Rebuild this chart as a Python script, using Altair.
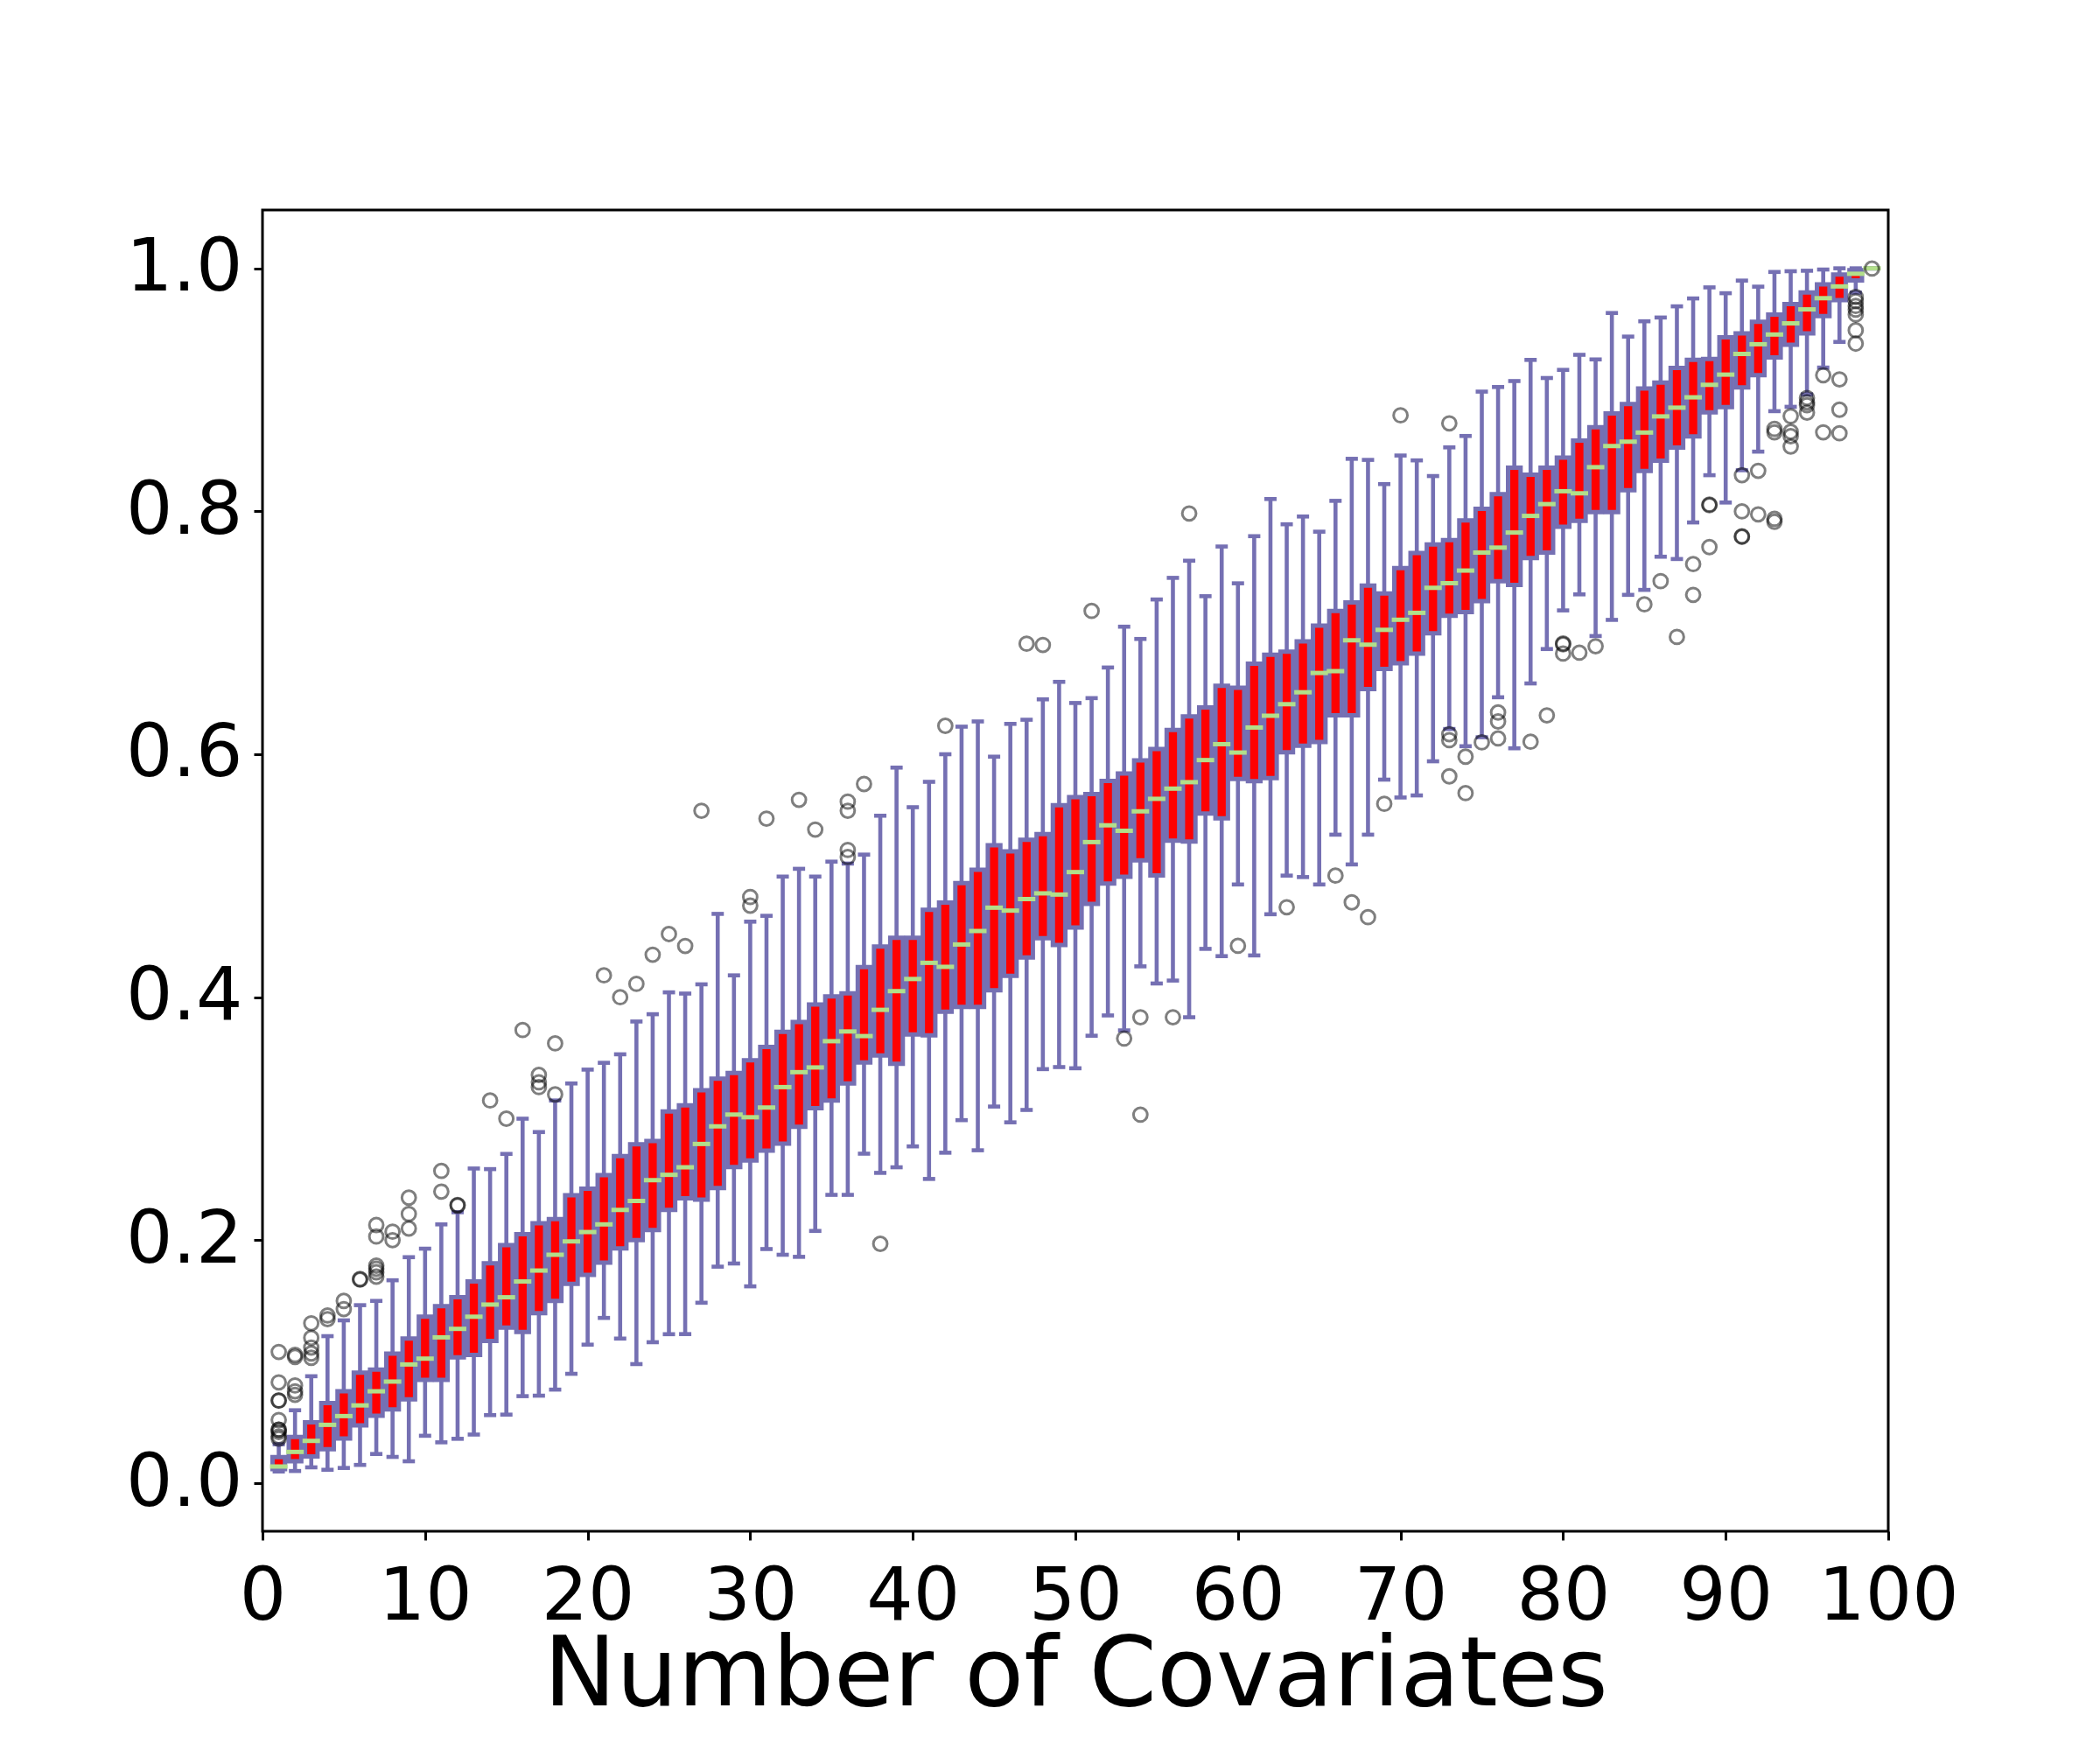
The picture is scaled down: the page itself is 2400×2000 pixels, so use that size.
import altair as alt
import pandas as pd

# ---- data ----
covariates = list(range(1, 100))

whisker_low = [0.0096, 0.010, 0.013, 0.011, 0.0125, 0.015, 0.024, 0.0216, 0.018, 0.039,
               0.0336, 0.0365, 0.040, 0.056, 0.0564, 0.0716, 0.072, 0.077, 0.090, 0.114,
               0.136, 0.119, 0.098, 0.116, 0.1226, 0.1227, 0.1485, 0.1782, 0.1808, 0.162,
               0.1927, 0.188, 0.1863, 0.2076, 0.2373, 0.2373, 0.2712, 0.2554, 0.260, 0.2772,
               0.2504, 0.272, 0.2988, 0.274, 0.310, 0.297, 0.3072, 0.3408, 0.3425, 0.3415,
               0.3683, 0.385, 0.3727, 0.4254, 0.4113, 0.4137, 0.3835, 0.4398, 0.4338, 0.4928,
               0.4344, 0.4683, 0.5001, 0.4989, 0.4928, 0.5338, 0.5093, 0.5338, 0.5791, 0.5644,
               0.5661, 0.5942, 0.6208, 0.6066, 0.614, 0.6469, 0.6049, 0.6583, 0.6866, 0.7184,
               0.7316, 0.6973, 0.7106, 0.7312, 0.7353, 0.7626, 0.7607, 0.7908, 0.8297, 0.8072,
               0.8338, 0.8491, 0.8824, 0.886, 0.8962, 0.9183, 0.9394, 0.980, 1.0]

quartile1 = [0.0115, 0.018, 0.022, 0.028, 0.0367, 0.0475, 0.0555, 0.0607, 0.069, 0.085,
             0.085, 0.1035, 0.1056, 0.117, 0.128, 0.1245, 0.140, 0.150, 0.164, 0.1714,
             0.1816, 0.1932, 0.200, 0.2083, 0.225, 0.2344, 0.2334, 0.243, 0.2602, 0.2657,
             0.2737, 0.2795, 0.2934, 0.3086, 0.315, 0.329, 0.3463, 0.352, 0.3452, 0.3694,
             0.3687, 0.388, 0.392, 0.392, 0.4057, 0.4175, 0.4327, 0.4485, 0.443, 0.4573,
             0.4768, 0.4935, 0.4992, 0.5126, 0.5002, 0.5288, 0.5281, 0.5512, 0.5472, 0.5797,
             0.5779, 0.5803, 0.6017, 0.607, 0.610, 0.632, 0.632, 0.6537, 0.6703, 0.6749,
             0.6829, 0.6995, 0.714, 0.717, 0.726, 0.7425, 0.7393, 0.7616, 0.7661, 0.7872,
             0.7922, 0.7993, 0.7993, 0.8174, 0.8331, 0.8416, 0.8525, 0.8617, 0.8814, 0.8857,
             0.9019, 0.912, 0.9266, 0.937, 0.9465, 0.9606, 0.9739, 0.990, 1.0]

medians = [0.0137, 0.0257, 0.0348, 0.048, 0.0552, 0.064, 0.0756, 0.0836, 0.0977, 0.1025,
           0.120, 0.127, 0.137, 0.147, 0.153, 0.166, 0.175, 0.188, 0.199, 0.2067,
           0.2130, 0.2249, 0.2323, 0.2494, 0.2538, 0.260, 0.2792, 0.2937, 0.3034, 0.3012,
           0.3092, 0.326, 0.3383, 0.3422, 0.3638, 0.3718, 0.368, 0.3896, 0.405, 0.415,
           0.4283, 0.425, 0.4434, 0.4545, 0.4737, 0.4713, 0.4808, 0.4855, 0.4845, 0.503,
           0.5277, 0.5415, 0.537, 0.553, 0.5633, 0.5717, 0.577, 0.5952, 0.6083, 0.6014,
           0.622, 0.6317, 0.6412, 0.651, 0.6669, 0.6684, 0.6938, 0.6902, 0.7024, 0.7107,
           0.7164, 0.737, 0.7408, 0.7512, 0.766, 0.7701, 0.7825, 0.7962, 0.8059, 0.8165,
           0.8148, 0.8363, 0.8537, 0.8573, 0.8648, 0.8781, 0.8853, 0.8938, 0.9041, 0.9125,
           0.9295, 0.9375, 0.9455, 0.9547, 0.9662, 0.9754, 0.9851, 0.9955, 1.0]

quartile3 = [0.0214, 0.038, 0.050, 0.066, 0.0756, 0.091, 0.0934, 0.1066, 0.119, 0.137,
             0.1457, 0.153, 0.166, 0.181, 0.196, 0.205, 0.214, 0.2174, 0.237, 0.2423,
             0.2536, 0.2693, 0.279, 0.2817, 0.306, 0.311, 0.3234, 0.333, 0.3376, 0.348,
             0.359, 0.3715, 0.3796, 0.394, 0.4006, 0.4031, 0.4248, 0.4417, 0.449, 0.449,
             0.472, 0.478, 0.494, 0.505, 0.525, 0.5201, 0.5295, 0.5342, 0.558, 0.5647,
             0.5673, 0.5781, 0.5841, 0.5949, 0.6043, 0.620, 0.6311, 0.6385, 0.6563, 0.6547,
             0.6746, 0.682, 0.6844, 0.6929, 0.7058, 0.718, 0.725, 0.7388, 0.7324, 0.7532,
             0.7656, 0.7726, 0.7763, 0.7924, 0.802, 0.8141, 0.8359, 0.8302, 0.8359, 0.8441,
             0.8583, 0.8692, 0.8805, 0.8882, 0.9011, 0.9059, 0.918, 0.9247, 0.9254, 0.9432,
             0.9464, 0.956, 0.962, 0.9705, 0.9802, 0.9868, 0.9948, 0.9985, 1.0]

whisker_high = [0.032, 0.060, 0.088, 0.121, 0.134, 0.1465, 0.150, 0.167, 0.186, 0.193,
                0.213, 0.223, 0.259, 0.2585, 0.271, 0.300, 0.289, 0.315, 0.329, 0.3404,
                0.346, 0.353, 0.380, 0.386, 0.404, 0.403, 0.4106, 0.4686, 0.418, 0.4622,
                0.467, 0.4993, 0.5057, 0.4993, 0.5116, 0.510, 0.5174, 0.5494, 0.589, 0.5564,
                0.5773, 0.600, 0.6227, 0.627, 0.598, 0.625, 0.6284, 0.6452, 0.6596, 0.6422,
                0.6462, 0.6714, 0.705, 0.6949, 0.7274, 0.7452, 0.7593, 0.7301, 0.771, 0.7407,
                0.7795, 0.8101, 0.7893, 0.7957, 0.7832, 0.8086, 0.8432, 0.8423, 0.8224, 0.8459,
                0.8419, 0.829, 0.8526, 0.862, 0.8985, 0.9023, 0.9072, 0.9246, 0.9097, 0.9164,
                0.9288, 0.925, 0.9632, 0.9438, 0.9564, 0.9595, 0.9687, 0.9752, 0.9843, 0.9795,
                0.9899, 0.9849, 0.997, 0.9976, 0.998, 0.999, 1.0, 1.0, 1.0]

outlier_x = [1, 1, 1, 1, 1, 1, 1, 1, 1, 1,
             2, 2, 2, 2, 2,
             3, 3, 3, 3, 3,
             4, 4, 5, 5, 6, 6,
             7, 7, 7, 7, 7, 7,
             8, 8, 9, 9, 9, 11, 11, 12, 12,
             14, 15, 16, 17, 17, 17, 18, 18,
             21, 22, 23, 24, 25, 26, 27, 30, 30, 31, 33, 34,
             36, 36, 36, 36, 37, 38, 42, 47, 48, 51, 53, 54, 54, 56, 57,
             60, 63, 66, 67, 68, 69, 70,
             73, 73, 73, 73, 74, 74, 75, 76, 76, 76, 78, 79,
             80, 80, 80, 81, 82, 85, 86, 87, 88, 88,
             89, 89, 89, 91, 91, 91, 91, 92, 92,
             93, 93, 93, 93, 94, 94, 94, 94, 95, 95, 95, 95,
             96, 96, 97, 97, 97,
             98, 98, 98, 98, 98, 98, 98, 99]

outlier_y = [0.108, 0.083, 0.068, 0.068, 0.052, 0.044, 0.044, 0.042, 0.0385, 0.0367,
             0.1056, 0.1039, 0.0804, 0.0756, 0.0727,
             0.1316, 0.1196, 0.1116, 0.1068, 0.1032,
             0.138, 0.135, 0.150, 0.1433, 0.168, 0.1675,
             0.2125, 0.203, 0.179, 0.1765, 0.1736, 0.170,
             0.207, 0.200, 0.235, 0.2216, 0.2096, 0.257, 0.240, 0.229, 0.2285,
             0.315, 0.300, 0.373, 0.336, 0.330, 0.326, 0.362, 0.320,
             0.418, 0.400, 0.411, 0.435, 0.452, 0.4422, 0.5535, 0.4825, 0.4754, 0.547, 0.5625, 0.538,
             0.561, 0.5535, 0.5212, 0.5154, 0.5755, 0.197, 0.6234, 0.691, 0.690, 0.718, 0.366, 0.3835, 0.3033, 0.3835, 0.7982,
             0.4423, 0.4741, 0.5001, 0.4781, 0.4659, 0.5592, 0.879,
             0.8724, 0.6165, 0.6116, 0.5818, 0.598, 0.568, 0.6098, 0.6344, 0.627, 0.613, 0.6103, 0.632,
             0.6911, 0.6905, 0.6829, 0.6836, 0.6889, 0.7234, 0.7425, 0.6966, 0.7565, 0.7312,
             0.8055, 0.805, 0.7705, 0.8297, 0.7999, 0.7794, 0.779, 0.8333, 0.7975,
             0.8678, 0.865, 0.7938, 0.7914, 0.8783, 0.8654, 0.8618, 0.8533, 0.8933, 0.8897, 0.8873, 0.8812,
             0.912, 0.865, 0.9086, 0.8836, 0.8642,
             0.9764, 0.973, 0.969, 0.966, 0.962, 0.949, 0.938, 0.9998]

x_ticks = [0, 10, 20, 30, 40, 50, 60, 70, 80, 90, 100]
y_ticks = [0.0, 0.2, 0.4, 0.6, 0.8, 1.0]
x_title = "Number of Covariates"

# ---- styles ----
PURPLE = "#7570b3"
RED = "#ff0000"
GREEN = "#b2df8a"
FONT = "DejaVu Sans"

boxes = pd.DataFrame({
    "x": covariates, "lo": whisker_low, "q1": quartile1,
    "med": medians, "q3": quartile3, "hi": whisker_high,
})
fliers = pd.DataFrame({"x": outlier_x, "v": outlier_y})

xscale = alt.Scale(domain=[0, 100], nice=False, zero=False)
yscale = alt.Scale(domain=[-0.0396, 1.048], nice=False, zero=False)

xaxis = alt.Axis(values=x_ticks, format="d", labelFont=FONT, labelFontSize=84,
                 labelColor="black", labelPadding=24, tickSize=10, tickWidth=3,
                 tickColor="black", domain=False, grid=False, labelFlush=False,
                 labelOverlap=False, titleFont=FONT, titleFontSize=111,
                 titleFontWeight="normal", titleColor="black",
                 titleBaseline="alphabetic", titleY=198)
yaxis = alt.Axis(values=y_ticks, format=".1f", labelFont=FONT, labelFontSize=84,
                 labelColor="black", labelPadding=13, tickSize=10, tickWidth=3,
                 tickColor="black", domain=False, grid=False, labelFlush=False,
                 labelOverlap=False)


def X(field="x"):
    return alt.X(f"{field}:Q", scale=xscale, axis=xaxis, title=x_title)


def Y(field):
    return alt.Y(f"{field}:Q", scale=yscale, axis=yaxis, title=None)


base = alt.Chart(boxes)

whisk_low = base.mark_rule(color=PURPLE, strokeWidth=4.6).encode(
    x=X(), y=Y("lo"), y2="q1:Q")
whisk_high = base.mark_rule(color=PURPLE, strokeWidth=4.6).encode(
    x=X(), y=Y("q3"), y2="hi:Q")
cap_low = base.mark_tick(orient="horizontal", color=PURPLE, size=14,
                         thickness=4.6, opacity=1).encode(x=X(), y=Y("lo"))
cap_high = base.mark_tick(orient="horizontal", color=PURPLE, size=14,
                          thickness=4.6, opacity=1).encode(x=X(), y=Y("hi"))
box = base.transform_calculate(
    xl="datum.x - 0.385", xr="datum.x + 0.385"
).mark_rect(fill=RED, stroke=PURPLE, strokeWidth=5, opacity=1).encode(
    x=alt.X("xl:Q", scale=xscale, axis=xaxis, title=x_title),
    x2="xr:Q", y=Y("q1"), y2="q3:Q")
median = base.mark_tick(orient="horizontal", color=GREEN, size=20,
                        thickness=5, opacity=1).encode(x=X(), y=Y("med"))
outs = alt.Chart(fliers).mark_point(
    shape="circle", filled=False, size=250, color="black",
    strokeWidth=3, opacity=1, strokeOpacity=0.5
).encode(x=X(), y=Y("v"))

chart = alt.layer(
    whisk_low, whisk_high, box, cap_low, cap_high, median, outs
).properties(
    width=1858, height=1510,
    autosize=alt.AutoSizeParams(type="none"),
    padding={"left": 292, "top": 232, "right": 230, "bottom": 242},
    background="white",
).configure_view(stroke="black", strokeWidth=3)

chart.save("out.html", embed_options={"renderer": "svg", "actions": False})
